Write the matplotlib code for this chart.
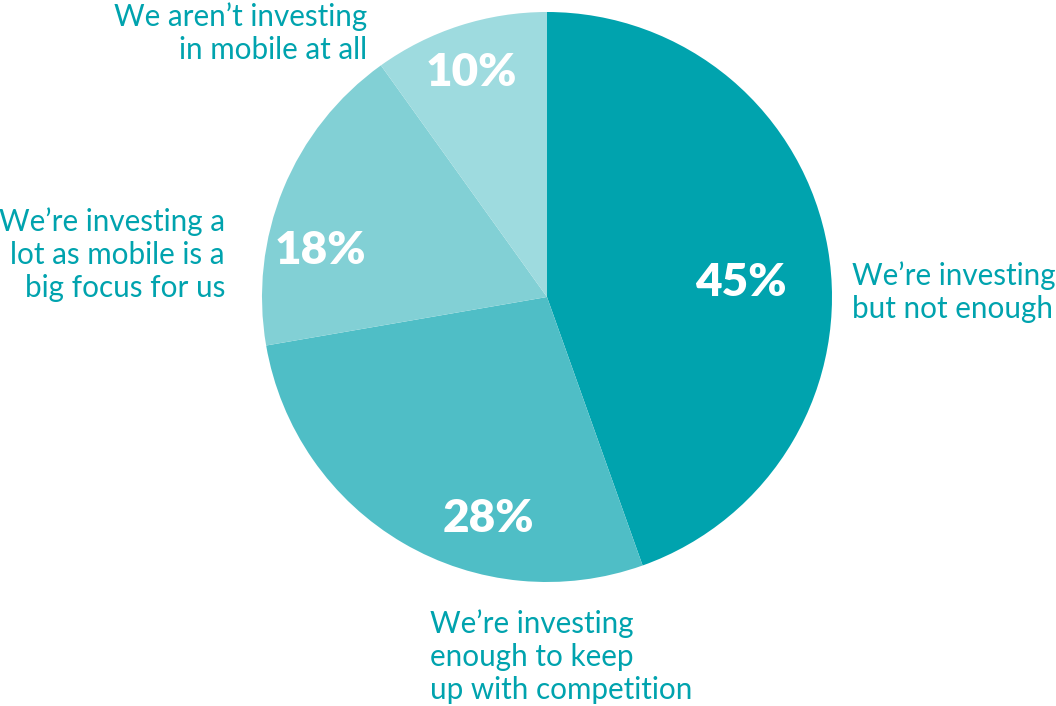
import matplotlib.pyplot as plt

# survey shares, clockwise from the top
shares = [45, 28, 18, 10]
pct_labels = ['45%', '28%', '18%', '10%']
answers = [
    'We\u2019re investing\nbut not enough',
    'We\u2019re investing\nenough to keep\nup with competition',
    'We\u2019re investing a\nlot as mobile is a\nbig focus for us',
    'We aren\u2019t investing\nin mobile at all',
]
colors = ['#00a3ae', '#4fbec6', '#82d0d5', '#9edbdf']
text_color = '#00a3ae'

W, H = 1056, 706
cx, cy, r = 547, H - 297, 285

# label placement in pixel space (x, y from top, ha)
pct_pos = [(741, 283), (488, 518), (320, 250), (471, 73)]
answer_pos = [(852, 292, 'left'), (430, 657, 'left'),
              (225, 255, 'right'), (367, 33, 'right')]

plt.rcParams['font.family'] = ['Lato', 'DejaVu Sans']

fig = plt.figure(figsize=(W / 100, H / 100), dpi=100)
ax = fig.add_axes([0, 0, 1, 1])
ax.pie(shares, colors=colors, startangle=90, counterclock=False,
       center=(cx, cy), radius=r, wedgeprops=dict(linewidth=0))
ax.set_xlim(0, W)
ax.set_ylim(0, H)
ax.set_aspect('equal')
ax.axis('off')

for lab, (x, y) in zip(pct_labels, pct_pos):
    ax.text(x, H - y, lab, color='white', fontsize=33, fontweight='heavy',
            ha='center', va='center')

for txt, (x, y, ha) in zip(answers, answer_pos):
    ax.text(x, H - y, txt, color=text_color, fontsize=21.3, ha=ha,
            va='center', multialignment=ha, linespacing=1.22)

fig.savefig('out.png', dpi=100, facecolor='white')
